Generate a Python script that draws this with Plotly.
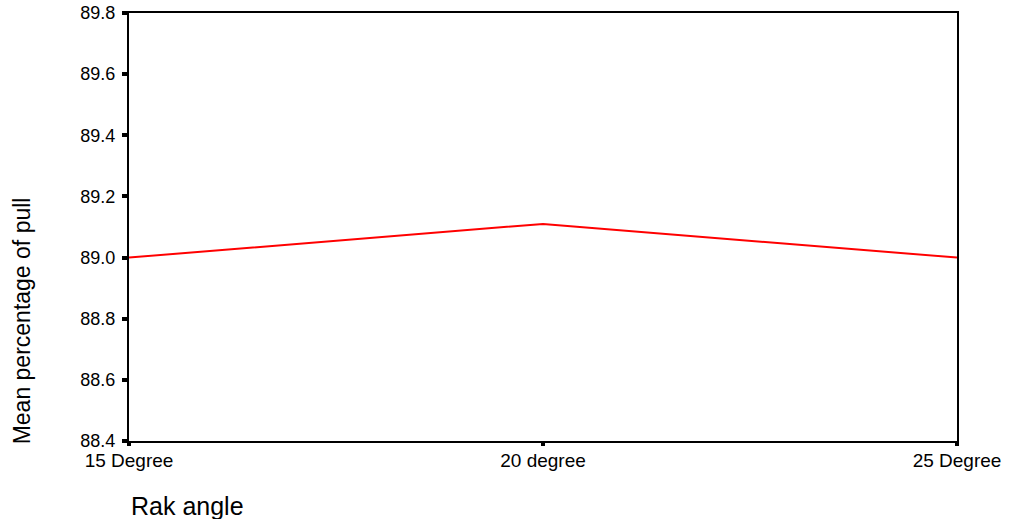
import plotly.graph_objects as go

categories = ["15 Degree", "20 degree", "25 Degree"]
mean_pull = [89.0, 89.11, 89.0]
y_ticks = [88.4, 88.6, 88.8, 89.0, 89.2, 89.4, 89.6, 89.8]

FONT = "Liberation Sans, Arial, sans-serif"

fig = go.Figure()
fig.add_trace(go.Scatter(
    x=list(range(len(categories))), y=mean_pull, mode="lines",
    line=dict(color="#ff0000", width=2), showlegend=False, hoverinfo="skip"))

fig.update_layout(
    template="none",
    width=1016, height=519,
    margin=dict(l=129, r=59, t=13, b=78, autoexpand=False),
    paper_bgcolor="white", plot_bgcolor="white",
    font=dict(family=FONT, color="black", size=20),
    xaxis=dict(range=[0, len(categories) - 1], tickvals=list(range(len(categories))),
               ticktext=categories, showgrid=False, zeroline=False, automargin=False,
               showline=True, linecolor="black", linewidth=2, mirror=True,
               ticks="outside", ticklen=3, tickwidth=4, tickcolor="black",
               ticklabelstandoff=-2, tickfont=dict(size=19)),
    yaxis=dict(range=[88.4, 89.8], tickvals=y_ticks,
               ticktext=[f"{v:.1f}" for v in y_ticks], showgrid=False, zeroline=False,
               automargin=False,
               showline=True, linecolor="black", linewidth=2, mirror=True,
               ticks="outside", ticklen=5, tickwidth=4, tickcolor="black",
               ticklabelstandoff=3, tickfont=dict(size=18)),
    annotations=[
        dict(text="Rak angle", xref="paper", yref="paper", x=0, y=-0.152,
             xanchor="left", yanchor="middle", showarrow=False,
             font=dict(size=25, family=FONT)),
        dict(text="Mean percentage of pull", xref="paper", yref="paper",
             x=-0.129, y=0.28, xanchor="center", yanchor="middle", textangle=-90,
             showarrow=False, font=dict(size=23, family=FONT)),
    ],
)
fig.write_html("out.html", config={"displayModeBar": False},
               post_script="document.body.style.margin='0';")
